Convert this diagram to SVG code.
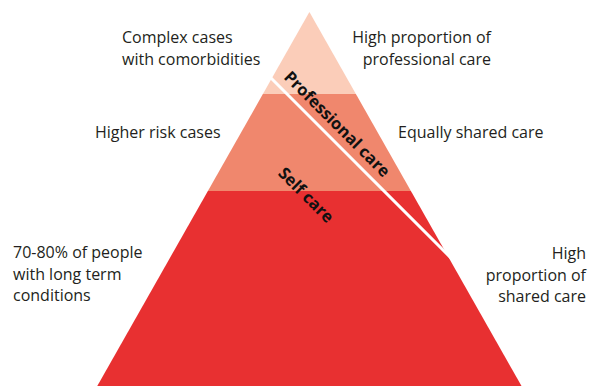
<svg xmlns="http://www.w3.org/2000/svg" width="589" height="386" viewBox="0 0 589 386">
  <style>
    .lbl { font-family: "Open Sans", "Noto Sans", "Liberation Sans", sans-serif; font-size: 16px; fill: #231F20; }
    .end { text-anchor: end; }
    .bold { font-family: "Open Sans", "Noto Sans", "Liberation Sans", sans-serif; font-size: 16.5px; font-weight: bold; fill: #111111; text-anchor: middle; }
  </style>
  <rect width="589" height="386" fill="#ffffff"/>
  <g id="tier-top">
    <polygon points="309.4,12 355.9,94 262.9,94" fill="#FBCDB9"/>
  </g>
  <g id="tier-middle">
    <polygon points="262.9,94 355.9,94 410.9,191 207.9,191" fill="#F0876D"/>
  </g>
  <g id="tier-bottom">
    <polygon points="207.9,191 410.9,191 522.1,387 96.7,387" fill="#E83031"/>
  </g>
  <g id="connectors">
    <line x1="268" y1="75" x2="454" y2="261" stroke="#ffffff" stroke-width="3"/>
  </g>
  <g id="professional-care">
    <text class="bold" x="333" y="128" transform="rotate(45 333 128)">Professional care</text>
  </g>
  <g id="self-care">
    <text class="bold" x="302" y="199" transform="rotate(45 302 199)">Self care</text>
  </g>
  <g id="label-complex">
    <text class="lbl" x="122" y="43">Complex cases</text>
    <text class="lbl" x="122" y="65">with comorbidities</text>
  </g>
  <g id="label-higher-risk">
    <text class="lbl" x="95" y="138">Higher risk cases</text>
  </g>
  <g id="label-majority">
    <text class="lbl" x="13" y="258">70-80% of people</text>
    <text class="lbl" x="13" y="280">with long term</text>
    <text class="lbl" x="13" y="301">conditions</text>
  </g>
  <g id="label-high-professional">
    <text class="lbl end" x="491" y="43">High proportion of</text>
    <text class="lbl end" x="491" y="65">professional care</text>
  </g>
  <g id="label-equally">
    <text class="lbl" x="398" y="138">Equally shared care</text>
  </g>
  <g id="label-high-shared">
    <text class="lbl end" x="586" y="259">High</text>
    <text class="lbl end" x="586" y="281">proportion of</text>
    <text class="lbl end" x="586" y="302">shared care</text>
  </g>
</svg>
